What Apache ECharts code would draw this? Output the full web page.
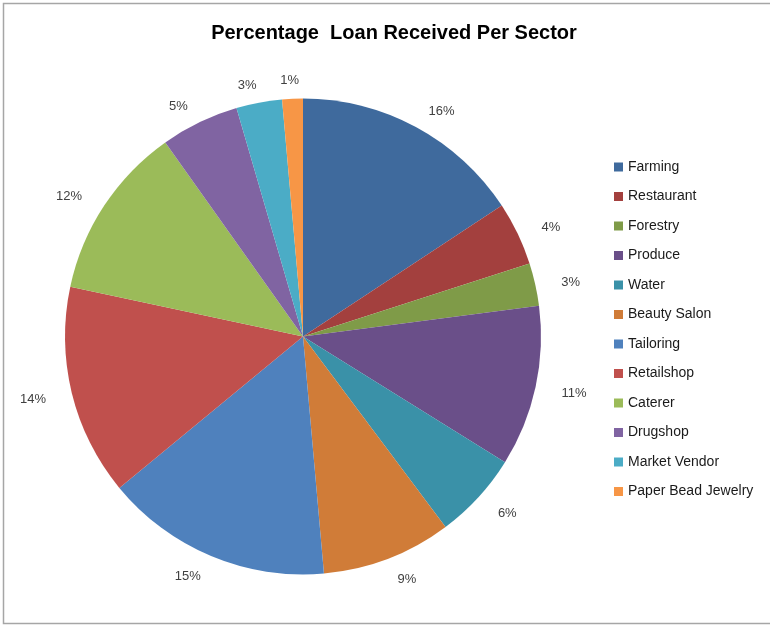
<!DOCTYPE html>
<html>
<head>
<meta charset="utf-8">
<script src="https://cdn.jsdelivr.net/npm/echarts@6/dist/echarts.min.js"></script>
<style>
html,body{margin:0;padding:0;background:#fff;}
#chart{width:770px;height:626px;}
</style>
</head>
<body>
<div id="chart"></div>
<script>
const categories = ['Farming','Restaurant','Forestry','Produce','Water','Beauty Salon','Tailoring','Retailshop','Caterer','Drugshop','Market Vendor','Paper Bead Jewelry'];
const values = [15.7, 4.3, 2.9, 10.9, 5.9, 8.8, 15.4, 14.3, 11.8, 5.3, 3.1, 1.4];
const colors = ['#3F6A9D','#A3403E','#7F9B48','#6A4F89','#3A91A8','#D07C38','#4F81BD','#C0504D','#9BBB59','#8064A2','#4BACC6','#F79646'];
const title = 'Percentage  Loan Received Per Sector';

const CX = 303, CY = 336.5, R = 238;
const total = values.reduce((a, b) => a + b, 0);
const starts = [];
values.reduce((acc, v, i) => { starts[i] = acc; return acc + v; }, 0);

const chart = echarts.init(document.getElementById('chart'), null, {renderer:'canvas'});
chart.setOption({
  animation: false,
  backgroundColor: '#fff',
  color: colors,
  title: {
    text: title,
    left: 389, top: 18, textAlign: 'center',
    textStyle: {fontFamily: 'Liberation Sans', fontWeight: 'bold', fontSize: 20, color: '#000'}
  },
  graphic: [{
    type: 'rect', shape: {x: 3.5, y: 3.5, width: 800, height: 620},
    style: {fill: 'none', stroke: '#a6a6a6', lineWidth: 1.5}, silent: true
  }],
  legend: {
    orient: 'vertical', left: 609, top: 155,
    itemWidth: 9, itemHeight: 9, itemGap: 15.5,
    icon: 'rect',
    data: categories,
    textStyle: {fontFamily: 'Liberation Sans', fontSize: 14, color: '#1a1a1a'}
  },
  series: [{
    type: 'pie',
    center: [CX, CY],
    radius: R,
    startAngle: 90,
    clockwise: true,
    avoidLabelOverlap: false,
    data: categories.map((c, i) => ({name: c, value: values[i]})),
    label: {
      show: true, position: 'outside',
      formatter: p => Math.round(p.percent) + '%',
      fontFamily: 'Liberation Sans', fontSize: 13, color: '#404040'
    },
    labelLine: {show: false, length: 14, length2: 4},
    labelLayout: function (params) {
      const i = params.dataIndex;
      const a = (starts[i] + values[i] / 2) / total * 2 * Math.PI;
      const ux = Math.sin(a), uy = -Math.cos(a);
      const w = params.labelRect.width;
      const rr = R + 14;
      const ax = CX + ux * rr * 1.05;
      const ay = CY + uy * rr + 2;
      const f = Math.min(1, 4 * Math.abs(ux));
      return {
        x: ax + Math.sign(ux) * w / 2 * f,
        y: ay + uy * 6,
        align: 'center',
        verticalAlign: 'middle'
      };
    },
    itemStyle: {borderWidth: 0}
  }]
});
</script>
</body>
</html>
